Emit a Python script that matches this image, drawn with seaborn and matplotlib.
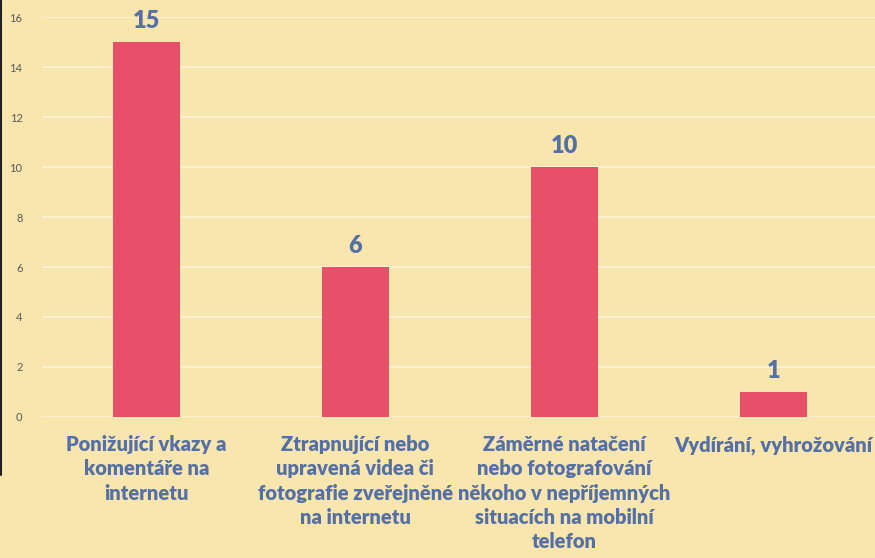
import matplotlib
matplotlib.use("Agg")
import matplotlib.pyplot as plt
import seaborn as sns
import pandas as pd
from matplotlib.lines import Line2D

categories = [
    "Ponižující vkazy a\nkomentáře na\ninternetu",
    "Ztrapnující nebo\nupravená videa či\nfotografie zveřejněné\nna internetu",
    "Záměrné natačení\nnebo fotografování\nněkoho v nepříjemných\nsituacích na mobilní\ntelefon",
    "Vydírání, vyhrožování",
]
values = [15, 6, 10, 1]
yticks = [0, 2, 4, 6, 8, 10, 12, 14, 16]

bg = "#f9e6ae"
bar_color = "#e8506a"
text_blue = "#5470a6"

sns.set_theme(style="white")
plt.rcParams['font.family'] = ['Lato', 'DejaVu Sans']

df = pd.DataFrame({"cat": categories, "val": values})

fig = plt.figure(figsize=(8.75, 5.58), dpi=100)
fig.patch.set_facecolor(bg)
ax = fig.add_axes([0.048, 0.2527, 0.955, 0.7168])
ax.set_facecolor(bg)

sns.barplot(data=df, x="cat", y="val", color=bar_color, width=0.32, ax=ax,
            saturation=1, zorder=3, linewidth=0, edgecolor="none")

ax.set_ylim(0, 16)
ax.set_xlim(-0.5, 3.5)
ax.set_yticks(yticks)
ax.set_yticklabels([str(t) for t in yticks], fontsize=8, color="#5a5a5a")
ax.tick_params(axis="y", length=0, pad=14)
ax.tick_params(axis="x", length=0, pad=13)
for lab in ax.get_xticklabels():
    lab.set_fontsize(14.5)
    lab.set_fontweight("heavy")
    lab.set_color(text_blue)
    lab.set_linespacing(1.33)
    lab.set_verticalalignment("top")
ax.set_xlabel("")
ax.set_ylabel("")
ax.grid(axis="y", color="#fdf3d6", linewidth=1.2, zorder=0)
for s in ax.spines.values():
    s.set_visible(False)

for i, v in enumerate(values):
    ax.annotate(str(v), (i, v), xytext=(0, 7), textcoords="offset points",
                ha="center", va="bottom", fontsize=17, fontweight="heavy",
                color=text_blue)

fig.add_artist(Line2D([0.001, 0.001], [1.0, 0.148], color="#222222",
                      linewidth=1.5, transform=fig.transFigure))

fig.savefig("out.png", dpi=100, facecolor=bg)
